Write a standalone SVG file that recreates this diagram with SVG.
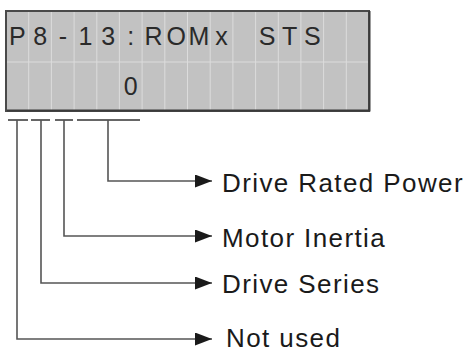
<svg xmlns="http://www.w3.org/2000/svg" width="469" height="352" viewBox="0 0 469 352">
<defs>
<style>
.lcd{fill:#c2c2c2;stroke:#4a4a4a;stroke-width:2}
.grid{stroke:#dcdcdc;stroke-width:1;fill:none}
.ch{font-family:"Liberation Sans",Arial,sans-serif;font-size:25px;fill:#2a2a2a;text-anchor:middle}
.lbl{font-family:"Liberation Sans",Arial,sans-serif;font-size:26px;fill:#1a1a1a;letter-spacing:1.4px}
.ln{stroke:#555;stroke-width:1.6;fill:none}
.bar{stroke:#666;stroke-width:1.8;fill:none}
</style>
<marker id="ah" markerWidth="17" markerHeight="13" refX="17" refY="6.5" orient="auto" markerUnits="userSpaceOnUse">
<path d="M0,0 L17,6.5 L0,13 Z" fill="#1a1a1a"/>
</marker>
</defs>
<g id="lcd">
<rect class="lcd" x="6" y="11" width="363" height="100"/>
<path class="grid" d="M28.7,12V110M51.4,12V110M74.1,12V110M96.8,12V110M119.4,12V110M142.1,12V110M164.8,12V110M187.5,12V110M210.2,12V110M232.9,12V110M255.6,12V110M278.3,12V110M300.9,12V110M323.6,12V110M346.3,12V110M7,62H368"/>
<path d="M7,110.5H369.5V11" stroke="#3a3a3a" stroke-width="2" fill="none"/>
<text class="ch" x="17.4" y="45">P</text>
<text class="ch" x="40.1" y="45">8</text>
<text class="ch" x="62.8" y="45">-</text>
<text class="ch" x="85.4" y="45">1</text>
<text class="ch" x="108.1" y="45">3</text>
<text class="ch" x="130.8" y="45">:</text>
<text class="ch" x="153.5" y="45">R</text>
<text class="ch" x="176.2" y="45">O</text>
<text class="ch" x="198.9" y="45">M</text>
<text class="ch" x="221.6" y="45">x</text>
<text class="ch" x="267" y="45">S</text>
<text class="ch" x="289.7" y="45">T</text>
<text class="ch" x="312.3" y="45">S</text>
<text class="ch" x="130.8" y="95">0</text>
</g>
<g id="connectors">
<path class="bar" d="M8,120H28M31,120H50M55,120H73M77,120H140"/>
<path class="ln" d="M108,120V181H212" marker-end="url(#ah)"/>
<path class="ln" d="M64,120V236H212" marker-end="url(#ah)"/>
<path class="ln" d="M41,120V283H212" marker-end="url(#ah)"/>
<path class="ln" d="M17,120V339H212" marker-end="url(#ah)"/>
</g>
<g id="label-power"><text class="lbl" x="222" y="192">Drive Rated Power</text></g>
<g id="label-inertia"><text class="lbl" x="222" y="247">Motor Inertia</text></g>
<g id="label-series"><text class="lbl" x="222" y="293">Drive Series</text></g>
<g id="label-unused"><text class="lbl" x="226" y="347">Not used</text></g>
</svg>
